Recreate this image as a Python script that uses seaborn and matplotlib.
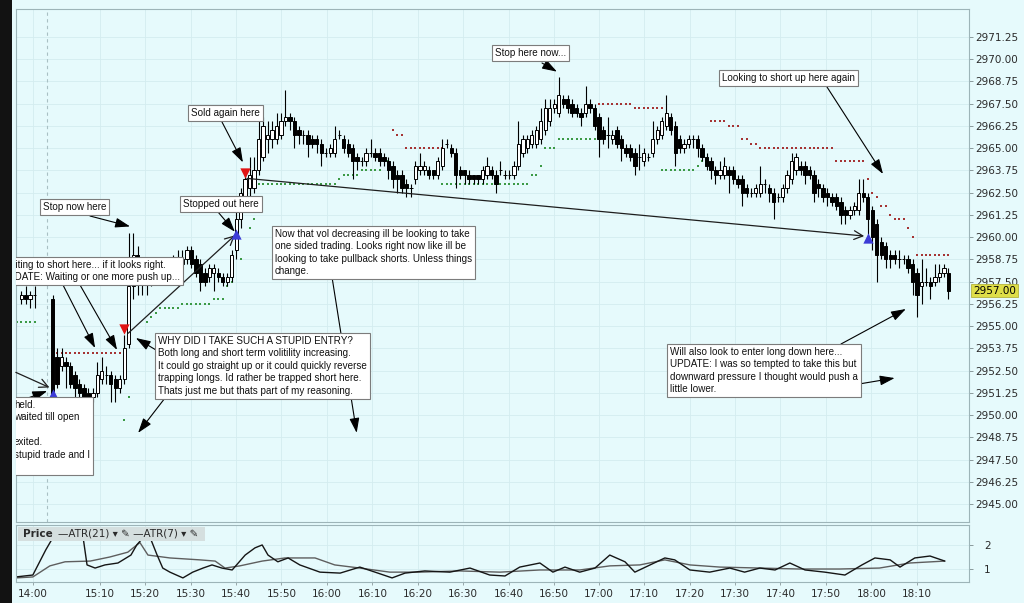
import numpy as np
import pandas as pd
import matplotlib
matplotlib.use('Agg')
import matplotlib.pyplot as plt
import seaborn as sns
from matplotlib.transforms import IdentityTransform, blended_transform_factory
from matplotlib.patches import Rectangle

nan = np.nan

# ---- 1 minute ES bars ----
opens = [
    2956.50, 2956.75, 2956.50, 2956.75, nan, nan, nan, 2956.50, 2953.25, 2952.75,
    2953.00, 2952.75, 2952.25, 2951.75, 2951.50, 2951.25, 2951.00, 2951.25, 2952.00, 2952.25,
    2952.25, 2952.00, 2951.50, 2952.00, 2954.00, 2957.25, 2959.00, 2957.50, 2958.00, 2957.75,
    2958.00, 2958.25, 2958.00, 2958.25, 2958.50, 2958.25, 2958.50, 2958.75, 2959.25, 2958.75,
    2958.50, 2958.00, 2957.75, 2958.00, 2958.00, 2957.75, 2957.50, 2957.75, 2959.25, 2961.00,
    2962.25, 2962.75, 2962.75, 2963.75, 2964.50, 2965.50, 2965.50, 2965.50, 2965.75, 2966.50,
    2966.75, 2966.50, 2966.00, 2965.75, 2965.75, 2965.50, 2965.50, 2965.25, 2964.75, 2964.75,
    2964.75, 2965.75, 2965.50, 2965.25, 2965.00, 2964.50, 2964.25, 2964.25, 2964.75, 2964.75,
    2964.75, 2964.50, 2964.25, 2964.00, 2963.50, 2963.50, 2963.00, 2962.75, 2963.25, 2963.75,
    2963.75, 2963.75, 2963.75, 2963.50, 2964.00, 2965.25, 2965.00, 2964.75, 2963.75, 2963.75,
    2963.50, 2963.50, 2963.50, 2963.25, 2963.50, 2963.75, 2963.50, 2963.75, 2963.50, 2963.50,
    2963.50, 2964.00, 2964.75, 2965.00, 2965.25, 2965.25, 2965.50, 2966.00, 2966.50, 2967.25,
    2967.00, 2967.75, 2967.75, 2967.50, 2967.25, 2967.00, 2967.00, 2967.50, 2967.25, 2966.75,
    2966.00, 2965.75, 2965.50, 2966.00, 2965.50, 2965.00, 2965.00, 2964.75, 2964.50, 2964.25,
    2964.50, 2964.75, 2965.50, 2965.75, 2966.25, 2966.75, 2966.25, 2965.50, 2965.00, 2965.25,
    2965.50, 2965.50, 2965.00, 2964.50, 2964.25, 2963.75, 2963.50, 2963.50, 2963.75, 2963.75,
    2963.25, 2963.25, 2962.75, 2962.50, 2962.50, 2962.50, 2963.00, 2962.75, 2962.50, 2962.25,
    2962.25, 2962.75, 2963.25, 2963.75, 2964.00, 2964.00, 2963.75, 2963.50, 2963.00, 2962.75,
    2962.50, 2962.25, 2962.25, 2962.00, 2961.50, 2961.25, 2961.50, 2961.50, 2962.50, 2962.25,
    2961.50, 2960.75, 2959.75, 2959.50, 2959.00, 2959.00, 2958.75, 2958.75, 2958.75, 2958.50,
    2958.00, 2957.25, 2957.50, 2957.50, 2957.50, 2957.75, 2958.00, 2958.00,
]
highs = [
    2957.00, 2957.25, 2957.00, 2957.25, nan, nan, nan, 2956.75, 2953.75, 2953.75,
    2953.25, 2953.00, 2952.50, 2952.00, 2951.75, 2951.50, 2951.50, 2953.00, 2953.25, 2952.75,
    2952.50, 2952.25, 2952.25, 2954.50, 2960.25, 2960.25, 2959.50, 2958.50, 2958.25, 2958.50,
    2958.50, 2958.50, 2958.75, 2958.75, 2959.00, 2959.25, 2959.25, 2959.50, 2959.50, 2959.00,
    2958.75, 2958.25, 2958.50, 2958.50, 2958.25, 2958.00, 2958.00, 2959.25, 2961.50, 2962.75,
    2963.50, 2964.50, 2964.50, 2966.50, 2966.75, 2966.50, 2966.50, 2967.00, 2967.00, 2968.25,
    2967.00, 2966.75, 2966.25, 2966.00, 2966.00, 2965.75, 2965.75, 2965.50, 2965.00, 2965.25,
    2966.25, 2966.00, 2965.75, 2965.50, 2965.25, 2964.75, 2964.50, 2965.00, 2965.50, 2965.00,
    2965.00, 2964.75, 2964.50, 2964.25, 2963.75, 2963.75, 2963.25, 2963.00, 2964.25, 2964.75,
    2964.25, 2964.00, 2963.75, 2964.50, 2965.50, 2965.50, 2965.25, 2965.00, 2964.00, 2963.75,
    2963.75, 2963.50, 2963.50, 2964.00, 2964.50, 2964.00, 2963.75, 2964.25, 2963.75, 2963.75,
    2964.25, 2966.50, 2965.75, 2965.75, 2966.00, 2966.25, 2967.25, 2967.75, 2967.75, 2967.75,
    2969.00, 2968.00, 2968.00, 2967.75, 2967.50, 2967.25, 2968.50, 2967.75, 2967.50, 2967.00,
    2966.25, 2966.75, 2966.00, 2966.25, 2965.75, 2965.25, 2965.25, 2965.00, 2965.25, 2965.00,
    2964.75, 2966.50, 2966.25, 2966.75, 2968.00, 2967.00, 2966.50, 2965.75, 2965.50, 2965.75,
    2965.75, 2965.75, 2965.25, 2964.75, 2964.50, 2964.00, 2964.25, 2964.50, 2964.00, 2964.00,
    2963.50, 2963.50, 2963.00, 2962.75, 2963.00, 2964.00, 2963.25, 2963.00, 2962.75, 2962.50,
    2963.00, 2963.75, 2964.75, 2964.75, 2964.25, 2964.25, 2964.00, 2963.75, 2963.25, 2963.00,
    2962.75, 2962.50, 2962.50, 2962.25, 2961.75, 2961.75, 2962.00, 2963.25, 2963.25, 2962.50,
    2961.75, 2961.00, 2960.00, 2959.75, 2959.25, 2959.25, 2959.25, 2959.00, 2959.00, 2958.75,
    2958.25, 2958.75, 2958.25, 2957.75, 2958.50, 2958.50, 2958.50, 2958.25,
]
lows = [
    2956.25, 2956.25, 2956.00, 2956.00, nan, nan, nan, 2950.75, 2951.50, 2952.50,
    2951.50, 2951.50, 2951.00, 2950.75, 2950.75, 2950.75, 2950.75, 2951.00, 2951.75, 2951.75,
    2950.75, 2950.75, 2951.25, 2951.75, 2953.75, 2956.50, 2956.75, 2956.75, 2956.75, 2957.25,
    2957.50, 2957.50, 2957.75, 2958.00, 2958.00, 2958.00, 2958.25, 2958.50, 2958.25, 2957.75,
    2957.00, 2957.25, 2957.50, 2957.00, 2957.50, 2957.25, 2957.25, 2957.50, 2958.75, 2960.50,
    2962.00, 2962.25, 2962.50, 2963.50, 2964.25, 2964.75, 2965.00, 2965.25, 2965.50, 2966.25,
    2966.00, 2965.00, 2965.25, 2965.25, 2964.50, 2965.00, 2964.75, 2964.00, 2964.50, 2964.50,
    2964.50, 2965.50, 2964.75, 2964.50, 2963.25, 2963.75, 2964.00, 2964.00, 2964.50, 2964.25,
    2964.00, 2964.00, 2963.25, 2962.75, 2962.50, 2962.50, 2962.25, 2962.25, 2963.00, 2963.50,
    2963.50, 2963.25, 2963.25, 2963.25, 2963.75, 2965.00, 2964.50, 2962.75, 2963.25, 2963.00,
    2963.00, 2963.00, 2963.00, 2963.00, 2963.25, 2963.25, 2962.50, 2963.50, 2963.25, 2963.25,
    2963.25, 2963.75, 2964.50, 2964.75, 2965.00, 2965.00, 2965.25, 2965.75, 2966.25, 2967.00,
    2966.75, 2967.25, 2967.00, 2966.75, 2966.75, 2966.25, 2966.75, 2967.00, 2966.00, 2964.50,
    2965.25, 2965.00, 2965.25, 2965.00, 2964.25, 2964.50, 2964.25, 2963.50, 2963.75, 2964.00,
    2964.25, 2964.50, 2965.25, 2965.50, 2966.00, 2965.75, 2964.00, 2964.75, 2964.75, 2965.00,
    2965.00, 2964.50, 2964.25, 2963.75, 2963.25, 2963.00, 2963.25, 2963.25, 2962.50, 2963.00,
    2962.75, 2961.75, 2962.25, 2962.25, 2962.25, 2962.25, 2962.50, 2962.00, 2961.00, 2962.00,
    2962.00, 2962.50, 2963.00, 2963.50, 2963.50, 2963.00, 2963.25, 2962.00, 2962.25, 2962.00,
    2961.75, 2961.75, 2961.50, 2960.75, 2960.75, 2961.00, 2961.25, 2961.25, 2962.00, 2960.00,
    2959.25, 2957.50, 2958.75, 2958.25, 2958.25, 2958.50, 2958.25, 2958.50, 2958.00, 2956.75,
    2955.50, 2956.25, 2957.25, 2956.50, 2957.25, 2957.50, 2957.75, 2956.50,
]
closes = [
    2956.75, 2956.50, 2956.75, 2956.75, nan, nan, nan, 2951.00, 2951.75, 2953.25,
    2952.75, 2951.75, 2951.50, 2951.25, 2951.00, 2951.00, 2951.25, 2952.25, 2952.50, 2952.25,
    2951.75, 2951.50, 2952.00, 2953.75, 2957.25, 2959.00, 2957.50, 2958.00, 2957.75, 2958.00,
    2958.25, 2958.00, 2958.25, 2958.50, 2958.25, 2958.50, 2958.75, 2959.25, 2958.50, 2958.00,
    2957.50, 2957.50, 2958.25, 2958.25, 2957.75, 2957.50, 2957.75, 2959.00, 2961.00, 2962.50,
    2963.25, 2963.50, 2963.75, 2965.50, 2966.25, 2965.75, 2966.00, 2966.25, 2966.50, 2966.75,
    2966.50, 2965.75, 2965.75, 2965.75, 2965.25, 2965.25, 2965.25, 2964.75, 2964.75, 2965.00,
    2965.50, 2965.75, 2965.00, 2964.75, 2964.25, 2964.25, 2964.25, 2964.75, 2964.75, 2964.50,
    2964.25, 2964.25, 2963.75, 2963.25, 2963.25, 2962.75, 2962.75, 2962.75, 2964.00, 2964.00,
    2964.00, 2963.50, 2963.50, 2964.25, 2965.00, 2965.25, 2964.75, 2963.50, 2963.50, 2963.50,
    2963.25, 2963.25, 2963.25, 2963.75, 2964.00, 2963.50, 2963.00, 2963.75, 2963.50, 2963.50,
    2964.00, 2965.25, 2965.50, 2965.50, 2965.75, 2966.00, 2966.50, 2967.25, 2967.25, 2967.50,
    2968.00, 2967.50, 2967.25, 2967.00, 2967.00, 2966.75, 2967.50, 2967.25, 2966.25, 2965.50,
    2965.50, 2965.75, 2965.75, 2965.25, 2965.00, 2964.75, 2964.50, 2964.00, 2964.50, 2964.75,
    2964.50, 2965.50, 2966.00, 2966.50, 2967.00, 2966.00, 2964.75, 2965.00, 2965.25, 2965.50,
    2965.50, 2965.00, 2964.50, 2964.00, 2963.75, 2963.50, 2963.75, 2964.00, 2963.50, 2963.25,
    2963.00, 2962.50, 2962.50, 2962.50, 2962.75, 2963.00, 2963.00, 2962.50, 2962.00, 2962.25,
    2962.75, 2963.50, 2964.25, 2964.50, 2963.75, 2963.50, 2963.50, 2962.50, 2962.75, 2962.25,
    2962.25, 2962.00, 2961.75, 2961.25, 2961.25, 2961.50, 2961.75, 2962.50, 2962.25, 2961.00,
    2960.00, 2959.00, 2959.00, 2958.75, 2958.75, 2958.75, 2958.75, 2958.75, 2958.25, 2957.50,
    2956.75, 2957.50, 2957.50, 2957.25, 2957.75, 2958.00, 2958.25, 2957.00,
]
last_price = 2957.00

# time axis (bar index of each label)
time_labels = ['14:00', '15:10', '15:20', '15:30', '15:40', '15:50', '16:00', '16:10',
               '16:20', '16:30', '16:40', '16:50', '17:00', '17:10', '17:20', '17:30',
               '17:40', '17:50', '18:00', '18:10']
time_ticks = [2.6, 17.6, 27.7, 37.9, 48.0, 58.1, 68.3, 78.4, 88.5, 98.6, 108.8, 118.9,
              129.0, 139.1, 149.3, 159.4, 169.5, 179.7, 189.8, 199.9]
session_break = 5.8

# trailing stop dots: (first bar, last bar, level)
red_stop_runs = [(8, 22, 2953.5), (83, 83, 2966.0), (84, 85, 2965.75), (86, 94, 2965.0),
                 (129, 136, 2967.5), (137, 143, 2967.25), (154, 157, 2966.5), (158, 160, 2966.25),
                 (161, 162, 2965.5), (163, 164, 2965.25), (165, 181, 2965.0), (182, 188, 2964.25),
                 (189, 189, 2963.25), (190, 190, 2962.5), (191, 191, 2962.25), (192, 193, 2961.75),
                 (194, 194, 2961.25), (195, 197, 2961.0), (198, 198, 2960.5), (199, 199, 2960.0),
                 (200, 207, 2959.0)]
green_stop_runs = [(-1, 3, 2955.25), (23, 23, 2949.75), (24, 24, 2951.0), (28, 28, 2955.25),
                   (29, 29, 2955.5), (30, 30, 2955.75), (31, 35, 2956.0), (36, 42, 2956.25),
                   (43, 45, 2956.5), (46, 46, 2957.25), (47, 47, 2957.5), (49, 49, 2958.75),
                   (51, 51, 2960.5), (52, 52, 2961.0), (53, 70, 2963.0), (71, 71, 2963.25),
                   (72, 75, 2963.5), (76, 80, 2963.75), (81, 82, 2964.25), (94, 113, 2963.0),
                   (114, 115, 2963.5), (116, 116, 2964.0), (117, 119, 2965.0), (120, 128, 2965.5),
                   (143, 150, 2963.75), (151, 151, 2964.0), (152, 152, 2964.25)]

# executions
buy_bars = [7, 48, 189]
buy_prices = [2951.2, 2960.2, 2959.95]
sell_bars = [23, 50]
sell_prices = [2954.85, 2963.6]
trade_from_bar = [-1.2, 23.9, 50.4]
trade_from_price = [2952.4, 2954.6, 2963.3]
trade_to_bar = [6.3, 47.7, 188.2]
trade_to_price = [2951.55, 2960.1, 2960.06]

# ATR panel
atr7_bar = [-1.2, 2.6, 5.5, 8.0, 13.6, 14.7, 16.5, 18.7, 21.6, 24.5, 25.8, 27.2, 28.8, 30.3,
            31.6, 33.2, 36.1, 38.3, 40.6, 42.6, 44.8, 47.1, 50.0, 52.2, 53.8, 55.1, 57.3, 59.6,
            62.2, 66.7, 71.2, 75.6, 79.0, 82.8, 85.7, 90.1, 95.7, 100.2, 104.6, 108.0, 111.3,
            115.8, 118.7, 121.4, 124.7, 128.1, 131.4, 134.8, 137.0, 140.4, 143.7, 145.9, 149.3,
            153.7, 158.2, 161.5, 164.9, 168.3, 171.6, 175.0, 179.4, 183.9, 187.7, 190.6, 194.0,
            196.2, 199.5, 202.9, 206.2]
atr7 = [0.67, 0.75, 1.8, 2.6, 2.6, 1.17, 1.04, 1.17, 1.25, 1.58, 2.0, 2.3, 2.3, 1.6, 1.04,
        0.87, 0.63, 0.87, 1.04, 1.17, 1.04, 0.96, 1.58, 1.88, 2.0, 1.58, 1.3, 1.46, 1.17, 0.87,
        0.83, 1.08, 0.87, 0.63, 0.83, 0.92, 0.87, 1.04, 0.75, 0.71, 1.08, 1.25, 0.87, 1.08,
        0.87, 1.04, 1.58, 1.3, 0.87, 1.17, 1.46, 1.38, 0.96, 0.87, 1.04, 0.87, 1.04, 0.96,
        1.25, 0.96, 0.87, 0.75, 1.17, 1.46, 1.38, 1.08, 1.46, 1.54, 1.33]
atr21_bar = [-1.2, 2.6, 6.4, 9.8, 15.4, 19.8, 23.8, 26.5, 28.3, 33.2, 39.9, 43.3, 45.5, 48.8,
             53.8, 58.9, 65.6, 70.0, 75.6, 82.3, 89.0, 97.9, 106.9, 115.8, 124.7, 131.4, 138.1,
             143.7, 149.3, 156.0, 164.9, 173.8, 182.7, 191.6, 198.4, 206.2]
atr21 = [0.63, 0.67, 1.13, 1.3, 1.33, 1.5, 1.7, 2.1, 1.58, 1.46, 1.38, 1.33, 1.04, 1.13, 1.33,
         1.46, 1.46, 1.17, 1.04, 0.87, 0.87, 0.92, 0.87, 0.96, 0.96, 1.13, 1.17, 1.38, 1.17,
         1.08, 1.04, 1.0, 1.0, 1.04, 1.25, 1.33]

# ---- style ----
W, H = 1024, 603
BG = '#E6FAFC'
GRID = '#D4ECEF'
TXT = '#2A2A2A'
sns.set_theme(style='white')
plt.rcParams['font.family'] = ['DejaVu Sans']
NOTE_FONT = ['Liberation Sans', 'DejaVu Sans']
NOTE_SIZE = 7.1

fig = plt.figure(figsize=(W / 100, H / 100), dpi=100)
fig.patch.set_facecolor(BG)
ax = fig.add_axes([16 / W, 1 - 522 / H, (969 - 16) / W, (522 - 9) / H])
ax2 = fig.add_axes([16 / W, 1 - 582 / H, (969 - 16) / W, (582 - 525) / H], sharex=ax)
px = IdentityTransform()

for a in (ax, ax2):
    a.set_facecolor(BG)
    for s in a.spines.values():
        s.set_color('#9DB4B8')
        s.set_linewidth(0.8)
    a.grid(True, color=GRID, lw=0.6)
    a.set_axisbelow(True)

# ---- candles ----
df = pd.DataFrame({'open': opens, 'high': highs, 'low': lows, 'close': closes})
df['bar'] = np.arange(len(df))
df = df.dropna()
up = df[df['close'] >= df['open']]
dn = df[df['close'] < df['open']]
ax.vlines(df['bar'], df['low'], df['high'], color='black', lw=0.8, zorder=3)
ax.bar(up['bar'], up['close'] - up['open'], bottom=up['open'], width=0.74,
       facecolor='white', edgecolor='black', linewidth=0.7, zorder=4)
ax.bar(dn['bar'], dn['open'] - dn['close'], bottom=dn['close'], width=0.74,
       facecolor='black', edgecolor='black', linewidth=0.7, zorder=4)


def expand(runs):
    rows = [(b, lvl) for s, e, lvl in runs for b in range(s, e + 1)]
    return pd.DataFrame(rows, columns=['bar', 'level'])


sns.scatterplot(data=expand(red_stop_runs), x='bar', y='level', color='#A53434', marker='s',
                s=2.5, linewidth=0, ax=ax, zorder=2, legend=False)
sns.scatterplot(data=expand(green_stop_runs), x='bar', y='level', color='#3C9A46', marker='s',
                s=2.5, linewidth=0, ax=ax, zorder=2, legend=False)

# trade lines entry -> exit
for b0, p0, b1, p1 in zip(trade_from_bar, trade_from_price, trade_to_bar, trade_to_price):
    ax.annotate('', xy=(b1, p1), xytext=(b0, p0),
                arrowprops=dict(arrowstyle='->,head_length=0.7,head_width=0.35', color='#1E1E1E',
                                lw=0.9, shrinkA=0, shrinkB=0, mutation_scale=9), zorder=5)

sns.scatterplot(x=buy_bars, y=buy_prices, marker='^', color='#3C3CD6', s=55, linewidth=0,
                ax=ax, zorder=6, legend=False)
sns.scatterplot(x=sell_bars, y=sell_prices, marker='v', color='#E01414', s=55, linewidth=0,
                ax=ax, zorder=6, legend=False)

ax.axvline(session_break, color='#A9C0C4', lw=0.8, ls=(0, (3, 3)), zorder=1)

ax.set_xlim(-1.16, 211.6)
ax.set_ylim(2943.99, 2972.82)
yt = np.arange(2945.0, 2971.3, 1.25)
ax.set_yticks(yt)
ax.set_yticklabels([f'{v:.2f}' for v in yt])
ax.yaxis.tick_right()
ax.tick_params(axis='y', right=True, left=False, labelright=True, labelleft=False,
               length=3, width=0.7, color='#8A9A9C', pad=1.5, labelsize=7.5, labelcolor=TXT)
ax.set_xticks(time_ticks)
ax.tick_params(axis='x', bottom=False, labelbottom=False)

ax.text(1.004, last_price, f'{last_price:.2f}', transform=blended_transform_factory(ax.transAxes, ax.transData),
        ha='left', va='center', fontsize=7.5, color='black', zorder=10, clip_on=False,
        bbox=dict(boxstyle='square,pad=0.18', fc='#DEDE48', ec='#B4B43C', lw=0.6))

# ---- notes ----
PAD = 3.0
notes = [
    ("Stop now here", 40, 199),
    ("Sold again here", 188, 105),
    ("Stopped out here", 180, 196),
    ("Stop here now...", 492, 45),
    ("Looking to short up here again", 719, 70),
    ("Now that vol decreasing ill be looking to take\none sided trading. Looks right now like ill be\n"
     "looking to take pullback shorts. Unless things\nchange.", 272, 226),
    ("WHY DID I TAKE SUCH A STUPID ENTRY?\nBoth long and short term volitility increasing.\n"
     "It could go straight up or it could quickly reverse\ntrapping longs. Id rather be trapped short here.\n"
     "Thats just me but thats part of my reasoning.", 155, 333),
    ("Waiting to short here... if it looks right.\nUPDATE: Waiting or one more push up...", -2, 257),
    ("held.\nwaited till open\n\nexited.\nstupid trade and I\n ", 11, 397),
    ("Will also look to enter long down here...\nUPDATE: I was so tempted to take this but\n"
     "downward pressure I thought would push a\nlittle lower.", 667, 344),
]
for txt, bx, by in notes:
    ax.text(bx + PAD, H - by - PAD, txt, transform=px, ha='left', va='top', fontsize=NOTE_SIZE,
            family=NOTE_FONT, linespacing=1.3, color='#111111', zorder=8, clip_on=True,
            bbox=dict(boxstyle='square,pad=0.3', fc='white', ec='#7C7C7C', lw=0.8))

# arrows: (start in screen pixels) -> (bar, price)
pointers = [
    ((90, 216), (24.3, 2960.6)),
    ((222, 122), (49.5, 2964.2)),
    ((218, 212), (47.7, 2960.3)),
    ((542, 63), (119.6, 2969.3)),
    ((827, 87), (192.4, 2963.55)),
    ((332, 277), (74.9, 2949.0)),
    ((156, 350), (25.6, 2954.33)),
    ((165, 398), (26.1, 2949.0)),
    ((63, 285), (16.5, 2953.77)),
    ((80, 285), (21.4, 2953.66)),
    ((28, 398), (5.8, 2951.35)),
    ((841, 344), (197.5, 2955.96)),
    ((859, 384), (195.0, 2952.08)),
]
for (sx, sy), tip in pointers:
    ax.annotate('', xy=tip, xytext=(sx, H - sy), textcoords='figure pixels',
                arrowprops=dict(arrowstyle='-|>,head_length=0.9,head_width=0.3', color='black',
                                lw=0.8, shrinkA=0, shrinkB=0, mutation_scale=10),
                annotation_clip=False, zorder=7)

# ---- ATR panel ----
sns.lineplot(x=atr21_bar, y=atr21, ax=ax2, color='#5E5E5E', lw=1.0, sort=False)
sns.lineplot(x=atr7_bar, y=atr7, ax=ax2, color='#151515', lw=1.0, sort=False)
ax2.set_ylim(0.46, 2.83)
ax2.set_yticks([1, 2])
ax2.set_yticklabels(['1', '2'])
ax2.yaxis.tick_right()
ax2.tick_params(axis='y', right=True, left=False, labelright=True, labelleft=False,
                length=3, width=0.7, color='#8A9A9C', pad=8, labelsize=7.5, labelcolor=TXT)
ax2.set_xticks(time_ticks)
ax2.set_xticklabels(time_labels)
ax2.tick_params(axis='x', bottom=True, length=2, width=0.6, color='#8A9A9C', pad=3,
                labelsize=7.5, labelcolor=TXT)
ax2.set_xlabel('')
ax2.set_ylabel('')
ax.set_xlabel('')
ax.set_ylabel('')

ax2.add_patch(Rectangle((18, H - 541), 187, 14, transform=px, fc='#D5DFDF', ec='none', zorder=5))
ax2.text(23, H - 534, 'Price', transform=px, ha='left', va='center', fontsize=7.5,
         fontweight='bold', color=TXT, zorder=6)
ax2.text(58, H - 534, '\u2014ATR(21) \u25be \u270e \u2014ATR(7) \u25be \u270e', transform=px,
         ha='left', va='center', fontsize=7.5, color=TXT, zorder=6)

# screenshot frame
fig.add_artist(Rectangle((0, 0), 12, H, transform=px, fc='#121212', ec='none'))

fig.savefig('out.png', dpi=100, facecolor=BG)
